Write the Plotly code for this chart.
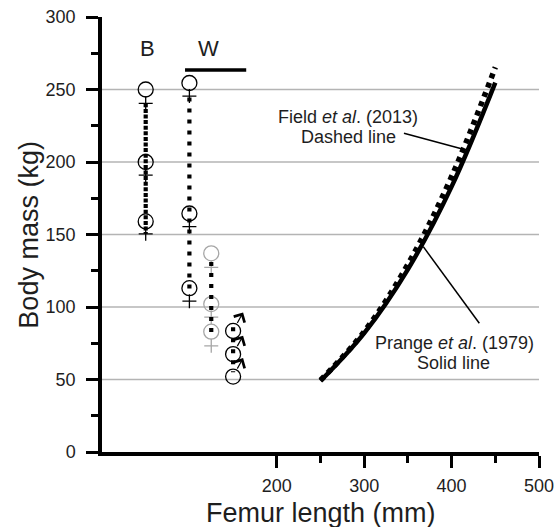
import plotly.graph_objects as go

# ---------------- data ----------------
# Allometric curves: femur length (mm) -> body mass (kg)
curve_femur = [250, 300, 350, 400, 450]
prange_mass = [49, 82, 126, 183, 254.7]     # Prange et al. (1979), solid
field_mass = [49.5, 83, 129.5, 190, 265.3]  # Field et al. (2013), dotted

# Specimen column "B"
b_x = 50
b_circle = [250, 200, 159]
b_cross = [240.5, 191, 150.5]
b_span = [240.5, 150.5]

# Specimen column "W"
w_x = 100
w_circle = [254.5, 164.5, 113]
w_cross = [245.5, 155.5, 104]
w_span = [244.5, 109]

# Grey specimen column
g_x = 125
g_circle = [137, 102, 83]
g_cross = [127.3, 93, 73.2]
g_span = [131, 78.5]

# Male column
m_x = 150
m_circle = [83.5, 67.5, 52]
m_span = [86, 55]

# W bar
w_bar_x = [95, 165]
w_bar_y = 263.5

# Axes
y_ticks = [0, 50, 100, 150, 200, 250, 300]
y_minor = [25, 75, 125, 175, 225, 275]
x_ticks = [200, 300, 400, 500]
x_minor = [250, 350, 450]
grid_mass = [50, 100, 150, 200, 250]

FONT = "Liberation Sans, Arial, sans-serif"
TXT = "#1e1e1e"
GREY = "#a6a6a6"

fig = go.Figure()

# Curves
fig.add_trace(go.Scatter(x=curve_femur, y=field_mass, mode="lines",
                         line=dict(color="black", width=5.5, dash="5px,5px", shape="spline"),
                         hoverinfo="skip"))
fig.add_trace(go.Scatter(x=curve_femur, y=prange_mass, mode="lines",
                         line=dict(color="black", width=4.5, shape="spline"),
                         hoverinfo="skip"))

def circles(x, ys, color):
    fig.add_trace(go.Scatter(x=[x] * len(ys), y=ys, mode="markers",
                             marker=dict(symbol="circle-open", size=15, color=color,
                                         line=dict(width=1.3, color=color)),
                             hoverinfo="skip"))

def crosses(x, ys, color):
    fig.add_trace(go.Scatter(x=[x] * len(ys), y=ys, mode="markers",
                             marker=dict(symbol="cross-thin", size=10, color=color,
                                         line=dict(width=1.3, color=color)),
                             hoverinfo="skip"))

def dotted(x, span, dash):
    fig.add_trace(go.Scatter(x=[x, x], y=span, mode="lines",
                             line=dict(color="black", width=4.2, dash=dash),
                             hoverinfo="skip"))

circles(b_x, b_circle, "black")
crosses(b_x, b_cross, "black")
circles(w_x, w_circle, "black")
crosses(w_x, w_cross, "black")
circles(g_x, g_circle, GREY)
crosses(g_x, g_cross, GREY)
circles(m_x, m_circle, "black")

dotted(b_x, b_span, "4px,1.6px")
dotted(w_x, w_span, "4px,7px")
dotted(g_x, g_span, "4px,7px")
dotted(m_x, m_span, "4px,7px")

# W bar
fig.add_trace(go.Scatter(x=w_bar_x, y=[w_bar_y, w_bar_y], mode="lines",
                         line=dict(color="black", width=3.5), hoverinfo="skip"))

# Gridlines
for g in grid_mass:
    fig.add_shape(type="line", xref="x", yref="y", x0=0, x1=500, y0=g, y1=g,
                  line=dict(color="#b4b4b4", width=1.5), layer="below")

# Leader lines
fig.add_shape(type="line", xref="x", yref="y", x0=345.5, y0=219.8, x1=413.4, y1=208.8,
              line=dict(color="black", width=1.5))
fig.add_shape(type="line", xref="x", yref="y", x0=367.6, y0=141.6, x1=431.7, y1=88.8,
              line=dict(color="black", width=1.5))

annotations = []
def label(x, y, text, size=18):
    annotations.append(dict(x=x, y=y, xref="x", yref="y", text=text, showarrow=False,
                            font=dict(family=FONT, size=size, color=TXT),
                            xanchor="center", yanchor="middle"))

label(281, 230.8, "Field <i>et al</i>. (2013)")
label(281.5, 217.4, "Dashed line")
label(403.5, 75.4, "Prange <i>et al</i>. (1979)")
label(402.5, 61.2, "Solid line")
label(51.5, 278, "B", 22)
label(121.7, 278, "W", 22)

# Axis titles
annotations.append(dict(x=0.5, y=-0.141, xref="paper", yref="paper", text="Femur length (mm)",
                        showarrow=False, xanchor="center", yanchor="middle",
                        font=dict(family=FONT, size=27, color=TXT)))
annotations.append(dict(x=-0.169, y=0.5, xref="paper", yref="paper", text="Body mass (kg)",
                        showarrow=False, xanchor="center", yanchor="middle", textangle=-90,
                        font=dict(family=FONT, size=27, color=TXT)))

# Male arrows
for my in m_circle:
    annotations.append(dict(x=m_x, y=my, xref="x", yref="y", text="", showarrow=True,
                            xshift=10, yshift=18.5, ax=-6.6, ay=12,
                            axref="pixel", ayref="pixel",
                            arrowhead=4, arrowsize=2, arrowwidth=1.2,
                            arrowcolor="black", standoff=0, startstandoff=0))

fig.update_layout(
    width=557, height=527,
    margin=dict(l=102, r=18, t=17, b=75),
    paper_bgcolor="white", plot_bgcolor="white",
    showlegend=False,
    annotations=annotations,
    font=dict(family=FONT, color=TXT),
    xaxis=dict(range=[0, 500], tickmode="array", tickvals=x_ticks, automargin=False,
               ticks="outside", ticklen=12, tickwidth=3, tickcolor="black",
               showline=True, linewidth=3.5, linecolor="black",
               showgrid=False, zeroline=False, ticklabelstandoff=3,
               tickfont=dict(size=18, family=FONT, color=TXT),
               minor=dict(tickvals=x_minor, ticks="outside", ticklen=7,
                          tickwidth=2.5, tickcolor="black", showgrid=False)),
    yaxis=dict(range=[0, 300], tickmode="array", tickvals=y_ticks, automargin=False,
               ticks="outside", ticklen=12, tickwidth=3, tickcolor="black",
               showline=True, linewidth=3.5, linecolor="black",
               showgrid=False, zeroline=False, ticklabelstandoff=7,
               tickfont=dict(size=18, family=FONT, color=TXT),
               minor=dict(tickvals=y_minor, ticks="outside", ticklen=7,
                          tickwidth=2.5, tickcolor="black", showgrid=False)),
)

# Remove the page's default 8px body margin so the figure fills the window exactly.
fig.write_html("out.html", config={"displayModeBar": False},
               post_script="document.body.style.margin='0';document.body.style.overflow='hidden';")
